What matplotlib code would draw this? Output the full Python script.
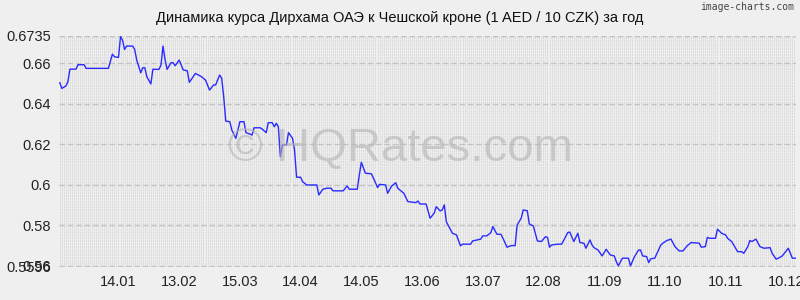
import pandas as pd
import matplotlib
matplotlib.use("Agg")
import matplotlib.pyplot as plt

plt.rcParams['font.family'] = ['Liberation Sans', 'DejaVu Sans']

####### DATA ###########################################
start = pd.Timestamp("2013-12-16")

days = [0, 1, 3, 4, 5, 8, 9, 12, 13, 24, 26, 27, 29, 30, 31, 32, 33, 36, 37, 38,
        40, 41, 42, 43, 45, 46, 47, 49, 50, 51, 52, 53, 55, 56, 57, 59, 61, 63, 64, 67,
        70, 72, 74, 76, 77, 79, 80, 81, 82, 84, 85, 87, 89, 91, 92, 94, 95, 96, 99, 100,
        102, 103, 105, 106, 107, 108, 109, 110, 112, 113, 115, 116, 117, 119, 120, 122, 127, 128, 130, 132,
        134, 135, 140, 142, 143, 147, 148, 149, 151, 154, 156, 157, 158, 161, 162, 164, 166, 167, 170, 172,
        176, 177, 178, 181, 183, 185, 186, 188, 189, 190, 191, 194, 196, 198, 199, 203, 204, 208, 209, 211,
        213, 214, 216, 218, 219, 221, 223, 225, 226, 228, 229, 231, 232, 234, 236, 238, 240, 241, 242, 243,
        246, 248, 251, 252, 254, 256, 257, 259, 260, 262, 263, 264, 266, 268, 270, 272, 274, 275, 276, 278,
        281, 282, 284, 286, 287, 288, 290, 291, 292, 294, 297, 298, 300, 302, 304, 306, 308, 310, 312, 316,
        317, 319, 320, 321, 324, 325, 327, 329, 330, 332, 334, 335, 337, 338, 340, 341, 342, 344, 346, 348,
        351, 352, 354, 356, 357, 360, 362, 364]

rate = [0.6503, 0.6475, 0.6487, 0.6508, 0.6570, 0.6570, 0.6592, 0.6592, 0.6574, 0.6574,
        0.6644, 0.6631, 0.6628, 0.6730, 0.6713, 0.6667, 0.6684, 0.6684, 0.6667, 0.6615,
        0.6552, 0.6577, 0.6577, 0.6533, 0.6497, 0.6570, 0.6569, 0.6569, 0.6590, 0.6684,
        0.6618, 0.6569, 0.6602, 0.6602, 0.6587, 0.6615, 0.6566, 0.6562, 0.6505, 0.6549,
        0.6533, 0.6516, 0.6467, 0.6492, 0.6492, 0.6541, 0.6525, 0.6434, 0.6314, 0.6311,
        0.6270, 0.6229, 0.6311, 0.6311, 0.6257, 0.6250, 0.6245, 0.6281, 0.6281, 0.6275,
        0.6257, 0.6306, 0.6306, 0.6286, 0.6303, 0.6286, 0.6138, 0.6196, 0.6196, 0.6257,
        0.6229, 0.6171, 0.6037, 0.6037, 0.6015, 0.5999, 0.5999, 0.5950, 0.5978, 0.5983,
        0.5983, 0.5970, 0.5970, 0.5994, 0.5978, 0.5978, 0.6048, 0.6111, 0.6057, 0.6054,
        0.6010, 0.5986, 0.6002, 0.5999, 0.5958, 0.5994, 0.6010, 0.5983, 0.5958, 0.5917,
        0.5912, 0.5920, 0.5905, 0.5905, 0.5835, 0.5860, 0.5892, 0.5871, 0.5876, 0.5901,
        0.5818, 0.5761, 0.5753, 0.5699, 0.5707, 0.5707, 0.5723, 0.5732, 0.5748, 0.5748,
        0.5764, 0.5794, 0.5756, 0.5756, 0.5736, 0.5692, 0.5700, 0.5700, 0.5802, 0.5835,
        0.5876, 0.5872, 0.5807, 0.5797, 0.5723, 0.5720, 0.5744, 0.5741, 0.5692, 0.5703,
        0.5707, 0.5707, 0.5764, 0.5767, 0.5720, 0.5761, 0.5715, 0.5712, 0.5687, 0.5728,
        0.5703, 0.5690, 0.5678, 0.5649, 0.5682, 0.5654, 0.5649, 0.5621, 0.5600, 0.5638,
        0.5638, 0.5600, 0.5646, 0.5678, 0.5678, 0.5649, 0.5646, 0.5616, 0.5635, 0.5638,
        0.5703, 0.5712, 0.5725, 0.5732, 0.5695, 0.5674, 0.5674, 0.5699, 0.5715, 0.5712,
        0.5692, 0.5695, 0.5741, 0.5736, 0.5736, 0.5781, 0.5761, 0.5753, 0.5736, 0.5720,
        0.5687, 0.5670, 0.5670, 0.5662, 0.5695, 0.5725, 0.5720, 0.5732, 0.5695, 0.5687,
        0.5690, 0.5662, 0.5633, 0.5643, 0.5649, 0.5687, 0.5638, 0.5638]

xtick_dates = ["2014-01-14", "2014-02-13", "2014-03-15", "2014-04-14", "2014-05-14", "2014-06-13",
               "2014-07-13", "2014-08-12", "2014-09-11", "2014-10-11", "2014-11-10", "2014-12-10"]
xtick_labels = ["14.01", "13.02", "15.03", "14.04", "14.05", "13.06",
                "13.07", "12.08", "11.09", "11.10", "10.11", "10.12"]

ytick_values = [0.6735, 0.66, 0.64, 0.62, 0.60, 0.58, 0.56, 0.5596]
ytick_labels = ["0.6735", "0.66", "0.64", "0.62", "0.6", "0.58", "0.56", "0.5596"]

ymin, ymax = 0.5596, 0.6735

dates = start + pd.to_timedelta(days, unit="D")

################# PLOT ###############################################
bg = "#efefef"
fig = plt.figure(figsize=(8, 3), dpi=100, facecolor=bg)
ax = fig.add_axes([0.074, 0.111, 0.921, 0.77])
ax.set_facecolor(bg)

# dense dotted background texture (one line per day)
all_days = start + pd.to_timedelta(range(0, 365), unit="D")
ax.vlines(all_days, ymin, ymax, colors="#dadada", linewidth=0.7,
          linestyles=(0, (2.2, 0.7)), zorder=0)

# major dashed grid lines
for v in ytick_values:
    ax.axhline(v, color="#c4c4c4", linewidth=1.0, linestyle=(0, (4, 2)), zorder=1)

ax.plot(dates, rate, color="#2a2aff", linewidth=1.0, zorder=3)

ax.set_xlim(start - pd.Timedelta(days=0.3), start + pd.Timedelta(days=363.8))
ax.set_ylim(ymin, ymax)

ax.set_xticks(pd.to_datetime(xtick_dates))
ax.set_xticklabels(xtick_labels, fontsize=10.5, color="#222222")
ax.set_yticks(ytick_values)
ax.set_yticklabels(ytick_labels, fontsize=10.5, color="#222222")
ax.tick_params(length=0, pad=6)
for s in ax.spines.values():
    s.set_visible(False)

fig.text(0.5, 0.94, "Динамика курса Дирхама ОАЭ к Чешской кроне (1 AED / 10 CZK) за год",
         ha="center", va="center", fontsize=10.5, color="#111111")
fig.text(0.993, 0.978, "image-charts.com", ha="right", va="center", fontsize=7,
         family="DejaVu Sans Mono", color="#444444")
fig.text(0.5, 0.505, "© HQRates.com", ha="center", va="center", fontsize=34,
         color="#b4b4b4", alpha=0.6, zorder=2)

plt.savefig("out.png", dpi=100, facecolor=bg)
